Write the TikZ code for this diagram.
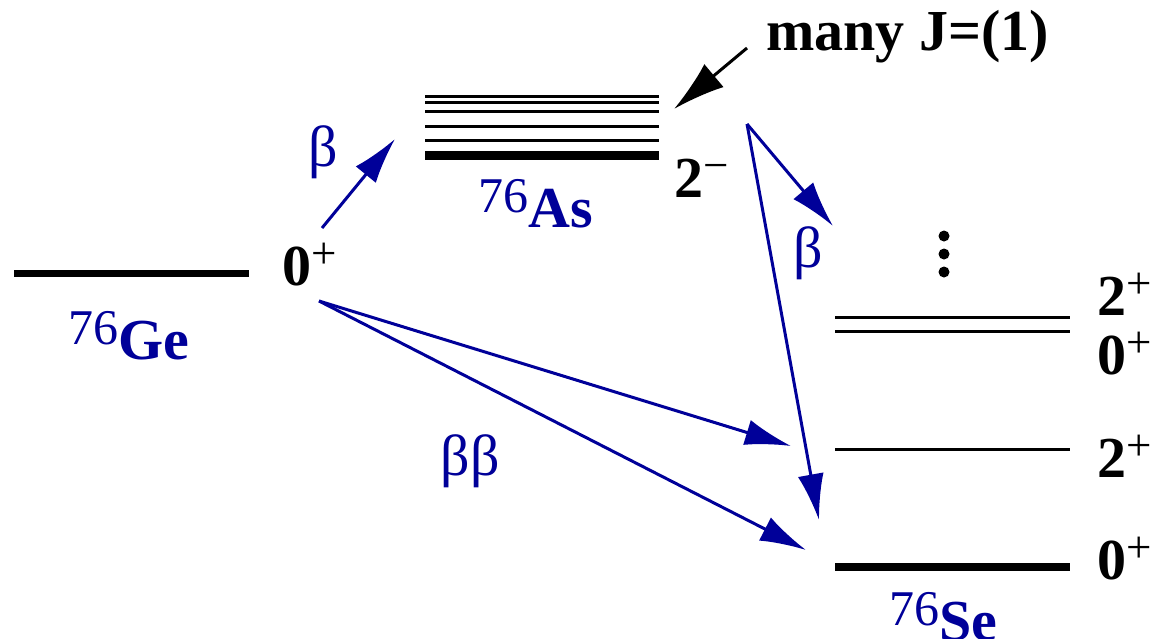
\documentclass[tikz,border=0pt]{standalone}
\usepackage{fontspec}
\setmainfont{Liberation Serif}
\usetikzlibrary{arrows.meta,positioning}
\definecolor{decayblue}{RGB}{0,0,153}
\newcommand{\spinlab}[2]{#1\raisebox{17pt}{\fontsize{45}{45}\selectfont\mdseries #2}}
\newcommand{\nuclab}[2]{\raisebox{15pt}{\fontsize{50}{50}\selectfont\mdseries #1}#2}
\tikzset{
  statebar/.style={line width=3pt},
  gsbar/.style={line width=8pt},
  spin/.style={anchor=base west,inner sep=0pt,font=\fontsize{58}{60}\selectfont\bfseries},
  nucl/.style={anchor=base west,inner sep=0pt,text=decayblue,font=\fontsize{58}{60}\selectfont\bfseries},
  decay/.style={anchor=center,inner sep=0pt,text=decayblue,font=\fontsize{58}{60}\selectfont},
  lvdot/.style={circle,fill=black,inner sep=0pt,minimum size=11pt},
  barr/.style={-{Latex[length=46pt,width=26pt]},line width=3pt,draw=decayblue},
  karr/.style={-{Latex[length=52pt,width=30pt]},line width=3pt,draw=black}
}

\begin{document}
\begin{tikzpicture}[x=1pt,y=-1pt]
  \useasboundingbox (0,0) rectangle (1153,638);
  % levels
  \draw[gsbar,line width=7pt] (14,273) -- (249,273);
  \foreach \y in {96,102,111,126,140}{
    \draw[statebar] (425,\y) -- (659,\y);
  }
  \draw[gsbar,line width=9pt] (425,155.5) -- (659,155.5);
  \foreach \y in {317,331,449}{
    \draw[statebar] (835,\y) -- (1070,\y);
  }
  \draw[gsbar] (835,567) -- (1070,567);
  % spins
  \node[spin] (ge0) at (282,285) {\spinlab{0}{+}};
  \node[spin] (as2) at (674,197) {\spinlab{2}{−}};
  \foreach \y/\s/\p [count=\i] in {315/2/+,374/0/+,477/2/+,579/0/+}{
    \node[spin] (se\i) at (1097,\y) {\spinlab{\s}{\p}};
  }
  \node[spin] (many) at (766,50) {many J=(1)};
  \foreach \y in {236,254,272}{
    \node[lvdot] at (944,\y) {};
  }
  % nuclei
  \node[nucl] (ge) at (68,359) {\nuclab{76}{Ge}};
  \node[nucl] (as) at (478,227) {\nuclab{76}{As}};
  \node[nucl] (se) at (889,640) {\nuclab{76}{Se}};
  \node[decay] (b1) at (323,152) {β};
  \node[decay] (b2) at (808,253) {β};
  \node[decay] (bb) at (470,461) {ββ};
  % decays
  \coordinate (gefoot) at (319,301);
  \coordinate (betatail) at (322,228);
  \coordinate (astip) at (395,139);
  \coordinate (asfork) at (747,124);
  \coordinate (sehigh) at (833,226);
  \coordinate (setwo) at (791,446);
  \coordinate (segs) at (806,550);
  \coordinate (segsb) at (819,520);
  \coordinate (manytail) at (747,48);
  \coordinate (manytip) at (674,109);
  \draw[barr] (betatail) -- (astip);
  \draw[barr] (gefoot) -- (setwo);
  \draw[barr] (gefoot) -- (segs);
  \draw[barr] (asfork) -- (sehigh);
  \draw[barr] (asfork) -- (segsb);
  \draw[karr] (manytail) -- (manytip);
\end{tikzpicture}
\end{document}
